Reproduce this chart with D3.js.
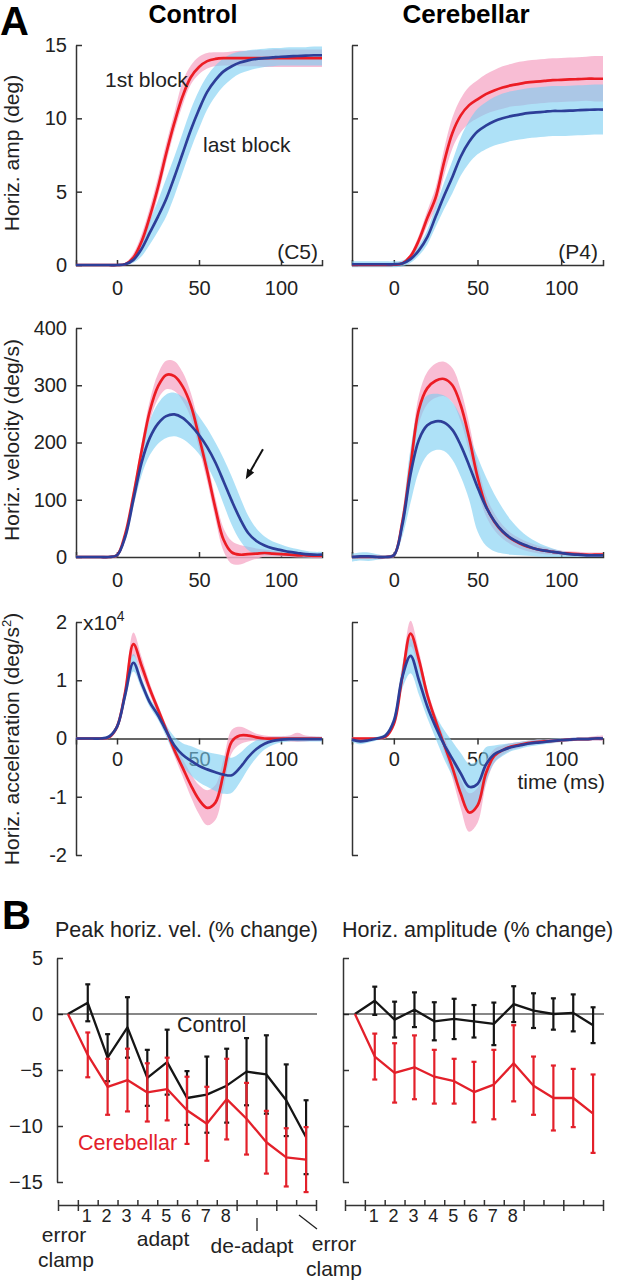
<!DOCTYPE html>
<html>
<head>
<meta charset="utf-8">
<script src="https://cdn.jsdelivr.net/npm/d3@7"></script>
<style>
  body { margin: 0; background: #fff; }
  svg { display: block; font-family: "Liberation Sans", Arial, sans-serif; }
</style>
</head>
<body>
<svg id="chart" width="618" height="1280"></svg>
<script>
// ---- Panel A: time base (ms) shared by every trace ----
const time = [-25,-20,-15,-10,-5,0,5,10,15,20,25,30,35,40,45,50,55,60,65,70,75,80,85,90,95,100,105,110,115,120,125];

// horizontal amplitude (deg), control subject C5
const ampCtrlRed   = [0,0,0,0,0, 0,0.05,0.5,1.6,3.3, 5.3,7.6,9.7,11.5,12.8, 13.5,13.9,14.05,14.1,14.1, 14.1,14.1,14.1,14.1,14.1, 14.1,14.1,14.1,14.1,14.1, 14.1];
const ampCtrlRedLo = [-0.05,-0.05,-0.05,-0.05,-0.05, -0.05,0,0.3,1.2,2.8, 4.7,7.0,9.1,10.9,12.3, 13.0,13.4,13.55,13.6,13.6, 13.55,13.55,13.55,13.5,13.5, 13.5,13.5,13.5,13.5,13.5, 13.5];
const ampCtrlRedHi = [0.05,0.05,0.05,0.05,0.05, 0.05,0.15,0.8,2.1,3.9, 6.0,8.3,10.4,12.5,13.6, 14.2,14.45,14.5,14.5,14.55, 14.6,14.6,14.65,14.65,14.7, 14.7,14.7,14.7,14.7,14.7, 14.7];
const ampCtrlBlue   = [0,0,0,0,0, 0,0.05,0.35,1.1,2.2, 3.3,4.5,6.0,7.6,9.2, 10.6,11.8,12.6,13.2,13.55, 13.8,13.95,14.05,14.1,14.15, 14.2,14.22,14.25,14.27,14.3, 14.3];
const ampCtrlBlueLo = [-0.05,-0.05,-0.05,-0.05,-0.05, -0.05,0,0.15,0.6,1.4, 2.3,3.3,4.7,6.3,7.9, 9.3,10.6,11.5,12.2,12.7, 13.05,13.25,13.4,13.5,13.55, 13.6,13.6,13.6,13.6,13.6, 13.6];
const ampCtrlBlueHi = [0.05,0.05,0.05,0.05,0.05, 0.05,0.1,0.6,1.7,3.0, 4.4,5.9,7.4,9.0,10.6, 11.9,12.9,13.6,14.1,14.4, 14.55,14.65,14.7,14.75,14.8, 14.8,14.85,14.85,14.85,14.9, 14.9];

// horizontal amplitude (deg), cerebellar patient P4
const ampCbRed   = [0,0,0,0,0, 0.02,0.1,0.6,1.7,3.2, 4.6,7.0,9.0,10.2,10.9, 11.3,11.65,11.9,12.1,12.25, 12.35,12.45,12.5,12.55,12.6, 12.62,12.65,12.67,12.7,12.7, 12.7];
const ampCbRedLo = [-0.05,-0.05,-0.05,-0.05,-0.05, -0.03,0,0.4,1.35,2.7, 3.9,6.1,7.95,9.05,9.65, 10.0,10.3,10.5,10.65,10.8, 10.85,10.95,11.0,11.05,11.1, 11.12,11.15,11.17,11.2,11.15, 11.15];
const ampCbRedHi = [0.05,0.05,0.05,0.05,0.05, 0.07,0.2,0.8,2.05,3.7, 5.3,7.9,10.05,11.35,12.15, 12.6,13.0,13.3,13.55,13.7, 13.85,13.95,14.0,14.05,14.1, 14.12,14.15,14.17,14.2,14.25, 14.25];
const ampCbBlue   = [0.05,0.05,0.05,0.05,0.05, 0.05,0.1,0.4,1.0,1.9, 3.3,4.7,6.0,7.4,8.4, 9.1,9.5,9.8,10.0,10.15, 10.25,10.35,10.4,10.45,10.5, 10.5,10.52,10.55,10.57,10.6, 10.6];
const ampCbBlueLo = [-0.15,-0.15,-0.15,-0.15,-0.15, -0.15,-0.1,0.15,0.65,1.4, 2.6,3.8,4.9,6.1,6.95, 7.55,7.9,8.15,8.3,8.45, 8.55,8.65,8.7,8.75,8.8, 8.8,8.82,8.85,8.87,8.9, 8.9];
const ampCbBlueHi = [0.25,0.25,0.25,0.25,0.25, 0.25,0.3,0.65,1.35,2.4, 4.0,5.6,7.1,8.7,9.85, 10.65,11.1,11.45,11.7,11.85, 11.95,12.05,12.1,12.15,12.2, 12.2,12.22,12.25,12.27,12.3, 12.3];

// horizontal velocity (deg/s)
const velCtrlRed   = [0,0,0,0,0, 3,40,108,185,255, 298,318,316,298,265, 210,150,85,30,8, 4,5,6,7,6, 5,4,3,3,2, 2];
const velCtrlRedLo = [-2,-2,-2,-2,-2, 0,34,98,171,237, 276,293,290,273,243, 190,132,67,10,-12, -13,-8,-3,1,1, 1,0,-1,-1,-2, -2];
const velCtrlRedHi = [2,2,2,2,2, 6,46,118,199,273, 320,343,342,323,287, 230,168,103,50,28, 21,18,15,13,11, 9,8,7,7,6, 6];
const velCtrlBlue   = [0,0,0,0,0, 3,35,100,165,208, 233,246,249,243,230, 213,192,165,132,98, 67,42,28,20,15, 12,9,7,5,4, 4];
const velCtrlBlueLo = [-2,-2,-2,-2,-2, 0,29,88,143,178, 198,208,211,206,195, 180,159,130,92,56, 29,12,6,4,3, 2,1,0,-1,-1, -1];
const velCtrlBlueHi = [2,2,2,2,2, 6,41,112,187,238, 268,284,287,280,265, 246,225,200,172,140, 105,72,50,36,27, 22,17,14,11,9, 9];

const velCbRed   = [0,0,0,0,0, 3,60,160,258,295, 308,311,300,265,208, 140,90,62,44,32, 24,18,14,11,9, 7,6,5,4,4, 4];
const velCbRedLo = [-2,-2,-2,-2,-2, 0,52,142,233,267, 278,281,270,237,183, 118,72,47,32,22, 15,10,7,5,4, 3,2,1,0,0, 0];
const velCbRedHi = [2,2,2,2,2, 6,68,178,283,323, 338,341,330,293,233, 162,108,77,56,42, 33,26,21,17,14, 11,10,9,8,8, 8];
const velCbBlue   = [0,1,1,0,0, 3,55,145,205,230, 237,235,222,195,160, 122,88,63,45,33, 25,19,14,11,9, 7,5,4,3,3, 3];
const velCbBlueLo = [-8,-6,-7,-5,-3, -1,35,95,150,178, 187,185,170,140,100, 45,20,10,6,4, 3,2,1,0,0, 0,0,0,0,0, 0];
const velCbBlueHi = [6,8,8,5,3, 7,75,190,260,282, 285,282,270,245,212, 175,140,110,85,64, 48,36,27,20,15, 11,8,6,5,4, 4];

// horizontal acceleration (x10^4 deg/s^2)
const accCtrlRed   = [0,0,0,0,0.02, 0.2,0.8,1.62,1.25,0.85, 0.5,0.15,-0.2,-0.5,-0.8, -1.05,-1.19,-1.1,-0.6,-0.05, 0.05,0.05,0.02,0,0, 0,0,0,0,0, 0];
const accCtrlRedLo = [-0.02,-0.02,-0.02,-0.02,-0.01, 0.14,0.68,1.42,1.1,0.75, 0.42,0.07,-0.3,-0.65,-1.0, -1.3,-1.49,-1.4,-0.85,-0.25, -0.1,-0.05,-0.04,-0.05,-0.04, -0.04,-0.05,-0.06,-0.05,-0.04, -0.03];
const accCtrlRedHi = [0.02,0.02,0.02,0.02,0.05, 0.26,0.92,1.82,1.4,0.95, 0.58,0.23,-0.1,-0.35,-0.6, -0.8,-0.89,-0.8,-0.35,0.15, 0.2,0.15,0.08,0.05,0.04, 0.04,0.05,0.1,0.05,0.04, 0.03];
const accCtrlBlue   = [0,0,0,0,0.03, 0.2,0.75,1.3,0.95,0.62, 0.4,0.13,-0.12,-0.28,-0.38, -0.47,-0.53,-0.58,-0.62,-0.63, -0.5,-0.32,-0.18,-0.09,-0.04, -0.02,-0.01,-0.01,-0.01,-0.01, -0.01];
const accCtrlBlueLo = [-0.02,-0.02,-0.02,-0.02,0, 0.15,0.65,1.15,0.85,0.54, 0.32,0.03,-0.27,-0.48,-0.63, -0.75,-0.83,-0.9,-0.95,-0.93, -0.75,-0.52,-0.33,-0.19,-0.11, -0.07,-0.05,-0.05,-0.05,-0.05, -0.05];
const accCtrlBlueHi = [0.02,0.02,0.02,0.02,0.06, 0.25,0.85,1.45,1.05,0.7, 0.48,0.23,0.03,-0.08,-0.13, -0.19,-0.23,-0.26,-0.29,-0.33, -0.25,-0.12,-0.03,0.01,0.03, 0.03,0.03,0.03,0.03,0.03, 0.03];

const accCbRed   = [0,0,0,0,0.03, 0.25,1.05,1.8,1.35,0.75, 0.3,-0.1,-0.5,-0.95,-1.27, -1.15,-0.6,-0.3,-0.2,-0.14, -0.11,-0.08,-0.06,-0.05,-0.04, -0.03,-0.02,-0.01,-0.01,0, 0];
const accCbRedLo = [-0.02,-0.02,-0.02,-0.02,0, 0.19,0.9,1.58,1.2,0.65, 0.2,-0.22,-0.68,-1.2,-1.6, -1.45,-0.8,-0.42,-0.28,-0.2, -0.16,-0.12,-0.1,-0.08,-0.07, -0.06,-0.05,-0.04,-0.04,-0.04, -0.05];
const accCbRedHi = [0.02,0.02,0.02,0.02,0.06, 0.31,1.2,2.02,1.5,0.85, 0.4,0.02,-0.32,-0.7,-0.94, -0.85,-0.4,-0.18,-0.12,-0.08, -0.06,-0.04,-0.02,-0.02,-0.01, 0,0.01,0.02,0.02,0.04, 0.05];
const accCbBlue   = [-0.02,-0.05,-0.03,0,0.05, 0.3,1.05,1.42,1.0,0.55, 0.2,-0.1,-0.35,-0.6,-0.83, -0.78,-0.45,-0.27,-0.2,-0.15, -0.12,-0.09,-0.07,-0.06,-0.04, -0.03,-0.02,-0.01,-0.01,0, 0];
const accCbBlueLo = [-0.06,-0.1,-0.07,-0.03,0.01, 0.22,0.85,1.12,0.75,0.35, 0,-0.35,-0.65,-0.95,-1.23, -1.18,-0.75,-0.42,-0.3,-0.22, -0.18,-0.14,-0.12,-0.1,-0.08, -0.06,-0.05,-0.04,-0.04,-0.03, -0.03];
const accCbBlueHi = [0.02,0,0.01,0.03,0.09, 0.38,1.25,1.72,1.25,0.75, 0.4,0.15,-0.05,-0.25,-0.43, -0.38,-0.15,-0.12,-0.1,-0.08, -0.06,-0.04,-0.02,-0.02,0, 0,0.01,0.02,0.02,0.03, 0.03];

// ---- Panel B: % change per block (mean and error) ----
const blocks = [0,1,2,3,4,5,6,7,8,9,10,11,12];
const blockLabels = ["1","2","3","4","5","6","7","8"];
const velCtrlPct    = [0, 1.0, -3.9, -1.2, -5.7, -4.3, -7.5, -7.2, -6.4, -5.15, -5.4, -7.7, -11.0];
const velCtrlPctErr = [0, 1.65, 2.1, 2.7, 2.5, 2.9, 2.4, 3.4, 3.3, 3.0, 3.5, 3.2, 3.3];
const velCbPct      = [0, -3.65, -6.5, -5.9, -7.0, -6.7, -8.6, -9.8, -7.6, -9.35, -11.45, -12.8, -13.0];
const velCbPctErr   = [0, 2.0, 2.5, 2.8, 2.6, 2.8, 3.0, 3.3, 3.6, 3.2, 2.8, 2.6, 2.9];
const ampCtrlPct    = [0, 1.18, -0.5, 0.38, -0.65, -0.44, -0.65, -0.88, 0.88, 0.3, 0, 0.1, -1.0];
const ampCtrlPctErr = [0, 1.26, 1.6, 1.55, 1.7, 1.8, 1.45, 1.9, 1.6, 1.55, 1.4, 1.65, 1.6];
const ampCbPct      = [0, -3.8, -5.26, -4.76, -5.6, -6.0, -6.97, -6.3, -4.4, -6.4, -7.5, -7.5, -8.9];
const ampCbPctErr   = [0, 2.05, 2.65, 2.85, 2.4, 2.0, 2.7, 3.1, 3.4, 2.6, 2.9, 2.6, 3.5];

const RED = "#ec1c24", BLUE = "#2d3e98", PINK = "#f7b2cd", SKY = "#78cdf2";
const INK = "#222";
const svg = d3.select("#chart");

// ---- Panel A layout ----
const colX = [
    d3.scaleLinear().domain([-25, 125]).range([76, 322]),
    d3.scaleLinear().domain([-25, 125]).range([352, 603])
];
const rowY = [
    d3.scaleLinear().domain([0, 15]).range([265, 45]),
    d3.scaleLinear().domain([0, 400]).range([557, 328]),
    d3.scaleLinear().domain([-2, 2]).range([855, 622])
];
const rowTicks = [[0, 5, 10, 15], [0, 100, 200, 300, 400], [-2, -1, 0, 1, 2]];

const panelsA = [
    { row: 0, col: 0, red: [ampCtrlRed, ampCtrlRedLo, ampCtrlRedHi], blue: [ampCtrlBlue, ampCtrlBlueLo, ampCtrlBlueHi] },
    { row: 0, col: 1, red: [ampCbRed, ampCbRedLo, ampCbRedHi], blue: [ampCbBlue, ampCbBlueLo, ampCbBlueHi] },
    { row: 1, col: 0, red: [velCtrlRed, velCtrlRedLo, velCtrlRedHi], blue: [velCtrlBlue, velCtrlBlueLo, velCtrlBlueHi] },
    { row: 1, col: 1, red: [velCbRed, velCbRedLo, velCbRedHi], blue: [velCbBlue, velCbBlueLo, velCbBlueHi] },
    { row: 2, col: 0, red: [accCtrlRed, accCtrlRedLo, accCtrlRedHi], blue: [accCtrlBlue, accCtrlBlueLo, accCtrlBlueHi] },
    { row: 2, col: 1, red: [accCbRed, accCbRedLo, accCbRedHi], blue: [accCbBlue, accCbBlueLo, accCbBlueHi] }
];

function styleAxis(g, size) {
    g.selectAll(".domain, .tick line").attr("stroke", "#333").attr("stroke-width", 1.5);
    g.selectAll("text").attr("font-size", size).attr("fill", INK).attr("font-family", "Liberation Sans, Arial, sans-serif");
}

panelsA.forEach(p => {
    const x = colX[p.col], y = rowY[p.row];
    const g = svg.append("g");

    // axes first, the bands are drawn over them
    const ya = g.append("g")
        .attr("transform", `translate(${x.range()[0]},0)`)
        .call(d3.axisLeft(y).tickValues(rowTicks[p.row]).tickSize(-6).tickSizeOuter(0).tickPadding(9)
            .tickFormat(p.col === 0 ? d => String(d) : ""));
    styleAxis(ya, 20);

    const atZero = p.row === 2;
    const xa = g.append("g")
        .attr("transform", `translate(0,${y(0)})`)
        .call(d3.axisBottom(x).tickValues([0, 50, 100]).tickSizeOuter(0)
            .tickSize(atZero ? 6 : -5).tickPadding(atZero ? 7 : 16));
    styleAxis(xa, 20);

    const area = (lo, hi) => d3.area()
        .x((d, i) => x(d)).y0((d, i) => y(lo[i])).y1((d, i) => y(hi[i]))
        .curve(d3.curveCatmullRom)(time);
    const line = (m) => d3.line()
        .x((d, i) => x(d)).y((d, i) => y(m[i]))
        .curve(d3.curveCatmullRom)(time);

    g.append("path").attr("d", area(p.red[1], p.red[2])).attr("fill", PINK).attr("fill-opacity", 0.85);
    g.append("path").attr("d", area(p.blue[1], p.blue[2])).attr("fill", SKY).attr("fill-opacity", 0.6);
    g.append("path").attr("d", line(p.red[0])).attr("fill", "none").attr("stroke", RED).attr("stroke-width", 2.7);
    g.append("path").attr("d", line(p.blue[0])).attr("fill", "none").attr("stroke", BLUE).attr("stroke-width", 2.7);
});

// panel letters and column titles
svg.append("text").attr("x", 0).attr("y", 35).attr("font-size", 40).attr("font-weight", "bold").text("A");
svg.append("text").attr("x", 2).attr("y", 929).attr("font-size", 40).attr("font-weight", "bold").text("B");
svg.append("text").attr("x", 193).attr("y", 23).attr("text-anchor", "middle")
    .attr("font-size", 25).attr("font-weight", "bold").text("Control");
svg.append("text").attr("x", 466).attr("y", 23).attr("text-anchor", "middle")
    .attr("font-size", 26).attr("font-weight", "bold").text("Cerebellar");

// y axis titles (rotated)
const yTitle = (cy, parts) => {
    const t = svg.append("text").attr("transform", `translate(19,${cy}) rotate(-90)`)
        .attr("text-anchor", "middle").attr("font-size", 21).attr("fill", INK);
    parts.forEach(pt => t.append("tspan").attr("dy", pt.dy || 0).attr("font-size", pt.size || null).text(pt.s));
};
yTitle(153, [{ s: "Horiz. amp (deg)" }]);
yTitle(440, [{ s: "Horiz. velocity (deg/s)" }]);
yTitle(739, [{ s: "Horiz. acceleration (deg/s" }, { s: "2", size: 13, dy: -8 }, { s: ")", dy: 8 }]);

// annotations in panel A
const note = (x, y, s, anchor) => svg.append("text").attr("x", x).attr("y", y)
    .attr("text-anchor", anchor || "start").attr("font-size", 21).attr("fill", INK).text(s);
note(105, 87, "1st block");
note(203, 152, "last block");
note(318, 259, "(C5)", "end");
note(598, 259, "(P4)", "end");
note(605, 789, "time (ms)", "end");
const expo = svg.append("text").attr("x", 83).attr("y", 630).attr("font-size", 21).attr("fill", INK);
expo.append("tspan").text("x10");
expo.append("tspan").attr("font-size", 14).attr("dy", -9).text("4");

// arrow pointing at the slow tail of the last-block velocity
{
    const x = colX[0], y = rowY[1];
    const x1 = x(89), y1 = y(188), x2 = x(78.5), y2 = y(136);
    const ang = Math.atan2(y2 - y1, x2 - x1);
    svg.append("line").attr("x1", x1).attr("y1", y1)
        .attr("x2", x2 - 6 * Math.cos(ang)).attr("y2", y2 - 6 * Math.sin(ang))
        .attr("stroke", "#111").attr("stroke-width", 2);
    const L = 10, W = 4;
    const bx = x2 - L * Math.cos(ang), by = y2 - L * Math.sin(ang);
    svg.append("polygon")
        .attr("points", [[x2, y2], [bx + W * Math.sin(ang), by - W * Math.cos(ang)], [bx - W * Math.sin(ang), by + W * Math.cos(ang)]].map(q => q.join(",")).join(" "))
        .attr("fill", "#111");
}

// ---- Panel B ----
const bY = d3.scaleLinear().domain([-15, 5]).range([1182, 958]);
const bX = [
    d3.scaleLinear().domain([-0.5, 12.5]).range([58, 316]),
    d3.scaleLinear().domain([-0.5, 12.5]).range([345, 603])
];
const bAxisX = [57, 343];
const bAxisY = 1205;
const panelsB = [
    { col: 0, title: "Peak horiz. vel. (% change)", tx: 55, ctrl: velCtrlPct, ctrlErr: velCtrlPctErr, cb: velCbPct, cbErr: velCbPctErr },
    { col: 1, title: "Horiz. amplitude (% change)", tx: 342, ctrl: ampCtrlPct, ctrlErr: ampCtrlPctErr, cb: ampCbPct, cbErr: ampCbPctErr }
];

panelsB.forEach(p => {
    const x = bX[p.col], ax = bAxisX[p.col];
    const g = svg.append("g");
    g.append("text").attr("x", p.tx).attr("y", 937).attr("font-size", 21.5).attr("fill", INK).text(p.title);

    const ya = g.append("g").attr("transform", `translate(${ax},0)`)
        .call(d3.axisLeft(bY).tickValues([5, 0, -5, -10, -15]).tickSize(-6).tickSizeOuter(0).tickPadding(14)
            .tickFormat(p.col === 0 ? d3.format("") : ""));
    styleAxis(ya, 20);

    g.append("line").attr("x1", ax).attr("x2", x.range()[1] + 1)
        .attr("y1", bY(0)).attr("y2", bY(0)).attr("stroke", "#111").attr("stroke-width", 1.2);

    // block axis underneath
    const half = d3.range(-0.5, 13, 1);
    const xa = g.append("g").attr("transform", `translate(0,${bAxisY})`)
        .call(d3.axisBottom(x).tickValues(half).tickSize(-5).tickSizeOuter(0).tickFormat(""));
    styleAxis(xa, 18);
    const xb = g.append("g").attr("transform", `translate(0,${bAxisY})`)
        .call(d3.axisBottom(x).tickValues([-0.5, 0.5, 8.5, 10.5, 12.5]).tickSize(6).tickFormat(""));
    xb.select(".domain").remove();
    styleAxis(xb, 18);
    g.selectAll(".blk").data(blockLabels).enter().append("text")
        .attr("x", (d, i) => x(i + 1) - 1).attr("y", 1222)
        .attr("text-anchor", "middle").attr("font-size", 18).attr("fill", INK).text(d => d);

    const series = [
        { m: p.ctrl, e: p.ctrlErr, c: "#151515" },
        { m: p.cb, e: p.cbErr, c: "#e3202a" }
    ];
    series.forEach(s => {
        const sg = g.append("g");
        blocks.forEach((b, i) => {
            if (s.e[i] <= 0) return;
            const cx = x(b), top = bY(s.m[i] + s.e[i]), bot = bY(s.m[i] - s.e[i]);
            sg.append("line").attr("x1", cx).attr("x2", cx).attr("y1", top).attr("y2", bot)
                .attr("stroke", s.c).attr("stroke-width", 2.2);
            [top, bot].forEach(yy => sg.append("line").attr("x1", cx - 2.5).attr("x2", cx + 2.5)
                .attr("y1", yy).attr("y2", yy).attr("stroke", s.c).attr("stroke-width", 2.2));
        });
        sg.append("path")
            .attr("d", d3.line().x(b => x(b)).y(b => bY(s.m[b]))(blocks))
            .attr("fill", "none").attr("stroke", s.c).attr("stroke-width", 2.3).attr("stroke-linejoin", "round");
    });
});

// labels inside panel B
svg.append("text").attr("x", 177).attr("y", 1032).attr("font-size", 21.5).attr("fill", INK).text("Control");
svg.append("text").attr("x", 78).attr("y", 1150).attr("font-size", 21.5).attr("fill", "#e3202a").text("Cerebellar");

// phase labels under the block axis
const phase = (x, y, s) => svg.append("text").attr("x", x).attr("y", y).attr("text-anchor", "middle")
    .attr("font-size", 21).attr("fill", INK).text(s);
phase(64, 1242, "error");
phase(66, 1267, "clamp");
phase(163, 1246, "adapt");
phase(252, 1253, "de-adapt");
phase(334, 1251, "error");
phase(334, 1276, "clamp");
svg.append("line").attr("x1", 257).attr("x2", 257).attr("y1", 1218).attr("y2", 1231)
    .attr("stroke", "#222").attr("stroke-width", 1.3);
svg.append("line").attr("x1", 299).attr("x2", 317).attr("y1", 1215).attr("y2", 1229)
    .attr("stroke", "#222").attr("stroke-width", 1.3);
</script>
</body>
</html>
